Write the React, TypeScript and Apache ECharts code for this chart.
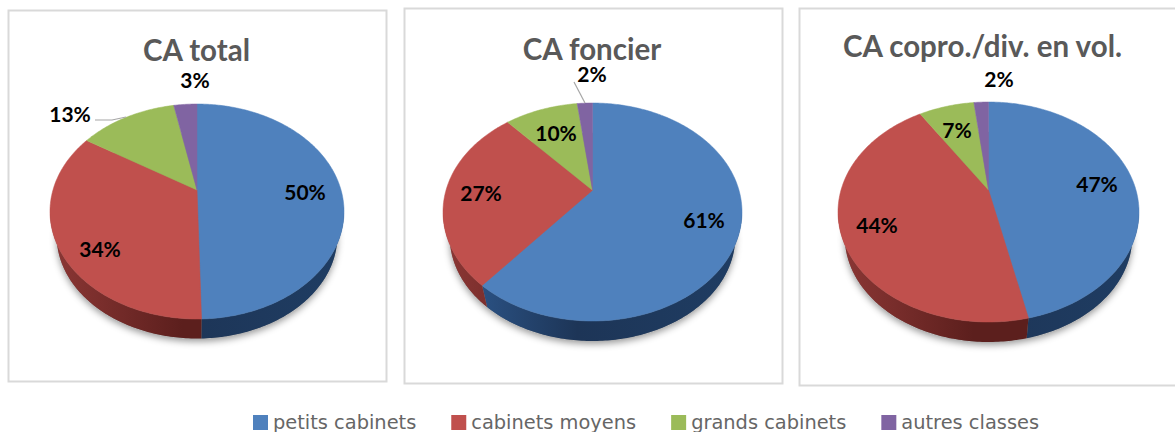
import React, { useEffect, useRef } from "react";
import * as echarts from "echarts";

const categories = ["petits cabinets", "cabinets moyens", "grands cabinets", "autres classes"];
const titles = ["CA total", "CA foncier", "CA copro./div. en vol."];
const totalValues = [49.6, 34.3, 13, 3.1];
const foncierValues = [61, 27.4, 9.6, 2];
const coproValues = [46.5, 44.4, 7.2, 1.9];

const colors = ["#4f81bd", "#c0504d", "#9bbb59", "#8064a2"];
const wallStops: string[][] = [
  ["#2f5b92", "#1d3557", "#1f3d63"],
  ["#8c3735", "#5c1f1d", "#5c1f1d"],
  ["#5f7536", "#4d5f2c", "#4d5f2c"],
  ["#4d3c62", "#3e304f", "#3e304f"],
];
const FONT = "Lato, 'Open Sans', sans-serif";
const K = 0.2; // perspective shift of the pie's apex
const SHRINK = 0.955;

const panels = [
  {
    values: totalValues, cx: 197, cy: 211.5, rx: 147, ry: 107.5, depth: 19.5,
    box: [8.5, 10.5, 378, 371], titleX: 196.5, titleY: 34.5,
    labels: [[305, 191], [100, 248], [70, 113], [195, 79.5]],
    leader: [[95, 120], [112, 120], [126, 117]],
  },
  {
    values: foncierValues, cx: 592.5, cy: 212, rx: 149.5, ry: 109, depth: 20,
    box: [404.5, 8.5, 378, 375], titleX: 592, titleY: 33.5,
    labels: [[704, 219], [481, 192], [556, 132], [592, 73]],
    leader: [[574, 82], [585, 103]],
  },
  {
    values: coproValues, cx: 988.5, cy: 212, rx: 150.5, ry: 110, depth: 20,
    box: [799.5, 8.5, 390, 377], titleX: 982.5, titleY: 30.5,
    labels: [[1097, 183], [877, 224], [957, 129], [999, 78]],
    leader: null,
  },
];

type Panel = (typeof panels)[number];

function rim(p: Panel, theta: number, lower: boolean) {
  const s = Math.sin(theta);
  const c = Math.cos(theta);
  const y = -c;
  const d = 1 - K * y;
  const u = (s * Math.sqrt(1 - K * K)) / d;
  const v = (y - K) / d;
  if (!lower) return [p.cx + u * p.rx, p.cy + v * p.ry, v];
  const ryL = p.ry * SHRINK;
  const cyL = p.cy + p.ry + p.depth - ryL;
  return [p.cx + u * p.rx * SHRINK, cyL + v * ryL, v];
}

function pieSeries(p: Panel, name: string) {
  const total = p.values.reduce((a, b) => a + b, 0);
  const renderItem = (params: any, api: any) => {
    const i = params.dataIndex;
    const before = p.values.slice(0, i).reduce((a, b) => a + b, 0);
    const val = api.value(0);
    const a0 = (before / total) * Math.PI * 2;
    const a1 = ((before + val) / total) * Math.PI * 2;
    const n = Math.max(2, Math.ceil((a1 - a0) / 0.015));
    const face: number[][] = [[p.cx, p.cy + (-K) * p.ry]];
    const top: number[][] = [];
    const bot: number[][] = [];
    for (let j = 0; j <= n; j++) {
      const t = a0 + ((a1 - a0) * j) / n;
      const r = rim(p, t, false);
      face.push([r[0], r[1]]);
      if (r[2] > -0.05) {
        top.push([r[0], r[1]]);
        const l = rim(p, t, true);
        bot.push([l[0], l[1]]);
      }
    }
    const children: any[] = [];
    if (i === 0) {
      const shadow: number[][] = [];
      for (let j = 0; j < 180; j++) {
        const l = rim(p, (j / 180) * Math.PI * 2, true);
        shadow.push([l[0], l[1]]);
      }
      children.push({
        type: "polygon",
        z2: 0,
        silent: true,
        shape: { points: shadow },
        style: { fill: "#888", shadowBlur: 7, shadowOffsetY: 3, shadowColor: "rgba(0,0,0,0.4)" },
      });
    }
    if (top.length > 1) {
      const w = wallStops[i];
      children.push({
        type: "polygon",
        z2: 1,
        shape: { points: top.concat(bot.slice().reverse()) },
        style: {
          fill: new echarts.graphic.LinearGradient(
            p.cx - p.rx, 0, p.cx + p.rx, 0,
            [{ offset: 0, color: w[0] }, { offset: 0.45, color: w[1] }, { offset: 1, color: w[2] }],
            true
          ),
        },
      });
    }
    children.push({
      type: "polygon",
      z2: 2,
      shape: { points: face },
      style: { fill: colors[i], stroke: colors[i], lineWidth: 0.5 },
    });
    const lab = p.labels[i];
    children.push({
      type: "text",
      z2: 5,
      style: {
        text: `${Math.round(val)}%`,
        x: lab[0],
        y: lab[1],
        fill: "#000",
        font: `bold 21px ${FONT}`,
        textAlign: "center",
        textVerticalAlign: "middle",
      },
    });
    if (p.leader && i === p.labels.length - 1) {
      children.push({
        type: "polyline",
        z2: 4,
        silent: true,
        shape: { points: p.leader },
        style: { fill: "none", stroke: "#a6a6a6", lineWidth: 1.2 },
      });
    }
    return { type: "group", children };
  };
  return {
    type: "custom",
    name,
    coordinateSystem: "none",
    silent: true,
    renderItem,
    data: p.values.map((v) => [v]),
  };
}

export default function App() {
  const ref = useRef<HTMLDivElement>(null);
  useEffect(() => {
    const chart = echarts.init(ref.current!, null, { renderer: "svg" });
    chart.setOption({
      animation: false,
      backgroundColor: "#fff",
      title: panels.map((p, i) => ({
        text: titles[i],
        left: p.titleX,
        top: p.titleY,
        textAlign: "center",
        padding: 0,
        textStyle: { fontFamily: FONT, fontWeight: "bold", fontSize: 29.5, color: "#595959" },
      })),
      legend: {
        data: categories,
        left: 253,
        top: 413,
        padding: 0,
        itemWidth: 15,
        itemHeight: 15,
        itemGap: 35,
        icon: "rect",
        textStyle: { fontFamily: "'DejaVu Sans', sans-serif", fontSize: 19.4, lineHeight: 15, color: "#666666" },
      },
      graphic: panels.map((p) => ({
        type: "rect",
        silent: true,
        shape: { x: p.box[0], y: p.box[1], width: p.box[2], height: p.box[3] },
        style: { fill: "none", stroke: "#d9d9d9", lineWidth: 2 },
      })),
      series: [
        ...panels.map((p, i) => pieSeries(p, titles[i])),
        ...categories.map((c, i) => ({
          type: "custom",
          name: c,
          coordinateSystem: "none",
          itemStyle: { color: colors[i] },
          renderItem: () => null,
          data: [],
        })),
      ],
    });
    return () => chart.dispose();
  }, []);
  return <div ref={ref} style={{ position: "fixed", left: 0, top: 0, width: 1175, height: 432 }} />;
}
